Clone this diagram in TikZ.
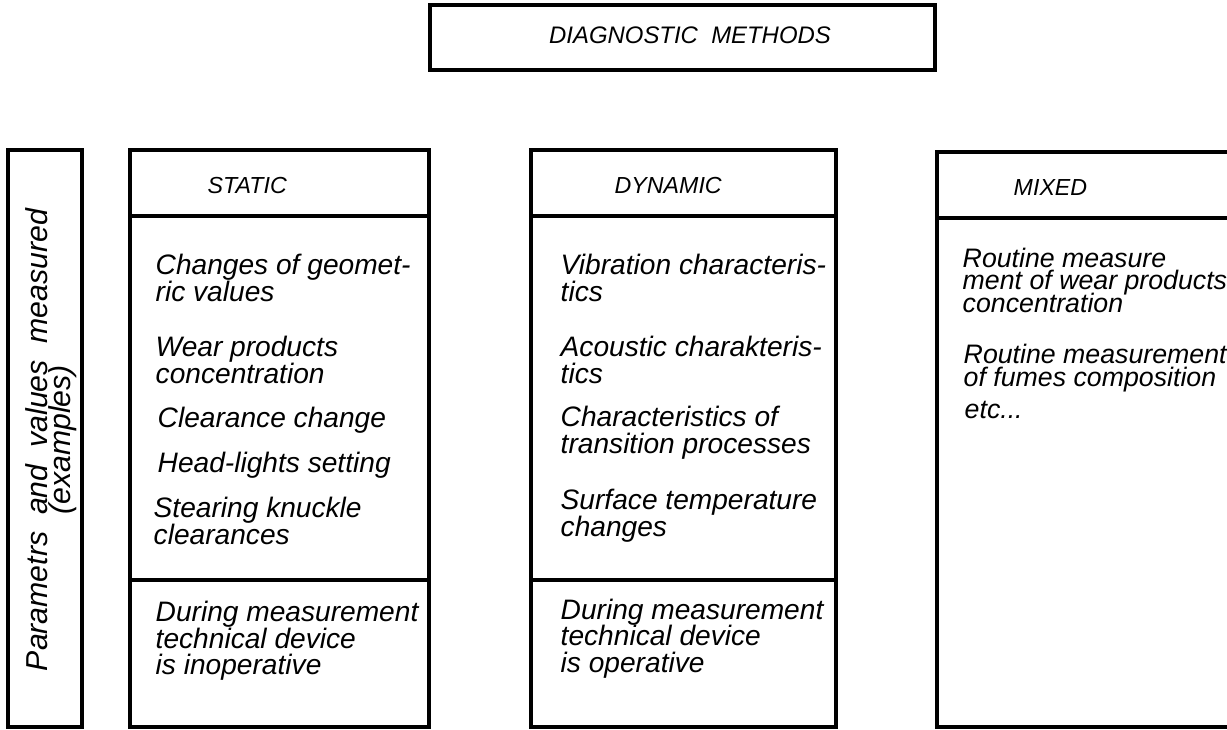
\documentclass[tikz,border=0pt]{standalone}
\usepackage{fontspec}
\setmainfont{Liberation Sans}
\begin{document}
\begin{tikzpicture}[x=0.01cm,y=-0.01cm,
	frame/.style={line width=0.9pt},
	headtext/.style={anchor=base west,inner sep=0pt,font=\itshape\fontsize{6.6}{7}\selectfont},
	itemtext/.style={anchor=base west,inner sep=0pt,align=left,font={\itshape\fontsize{8}{7.4}\selectfont\lineskiplimit=-10pt}},
	mixtext/.style={anchor=base west,inner sep=0pt,align=left,font={\itshape\fontsize{7.6}{6.4}\selectfont\lineskiplimit=-10pt}}]
	\useasboundingbox (0,0) rectangle (1227,729);

	\draw[frame] (430,5) rectangle (935,70);
	\node[anchor=base,inner sep=0pt,font=\itshape\fontsize{6.8}{7}\selectfont] (title) at (690,43) {DIAGNOSTIC\ \ METHODS};

	\draw[frame] (8,150) rectangle (82,727);
	\node[rotate=90,align=center,inner sep=0pt,font={\itshape\fontsize{8.6}{6.4}\selectfont\lineskiplimit=-10pt}] (params) at (51,440) {Parametrs\ \ and\ \ values\ \ measured\\(examples)};

	\draw[frame] (130,150) rectangle (429,727) (130,216) -- (429,216) (130,580) -- (429,580);
	\node[headtext] (static) at (207,193) {STATIC};
	\node[itemtext] (st1) at (155,301) {Changes of geomet-\\ric values};
	\node[itemtext] (st2) at (155,383) {Wear products\\concentration};
	\node[itemtext] (st3) at (157,427) {Clearance change};
	\node[itemtext] (st4) at (157,472) {Head-lights setting};
	\node[itemtext] (st5) at (153,544) {Stearing knuckle\\clearances};
	\node[itemtext] (stlow) at (155,674) {During measurement\\technical device\\is inoperative};

	\draw[frame] (531,150) rectangle (836,727) (531,216) -- (836,216) (531,580) -- (836,580);
	\node[headtext] (dynamic) at (614,193) {DYNAMIC};
	\node[itemtext] (dy1) at (560,301) {Vibration characteris-\\tics};
	\node[itemtext] (dy2) at (560,383) {Acoustic charakteris-\\tics};
	\node[itemtext] (dy3) at (560,453) {Characteristics of\\transition processes};
	\node[itemtext] (dy4) at (560,536) {Surface temperature\\changes};
	\node[itemtext] (dylow) at (560,672) {During measurement\\technical device\\is operative};

	\draw[frame] (1240,152) -- (937,152) -- (937,727) -- (1240,727) (937,218) -- (1240,218);
	\node[headtext] (mixed) at (1013,195) {MIXED};
	\node[mixtext] (mx1) at (962,312) {Routine measure\\ment of wear products\\concentration};
	\node[mixtext] (mx2) at (963,386) {Routine measurement\\of fumes composition};
	\node[mixtext] (mx3) at (964,418) {etc...};
\end{tikzpicture}
\end{document}
